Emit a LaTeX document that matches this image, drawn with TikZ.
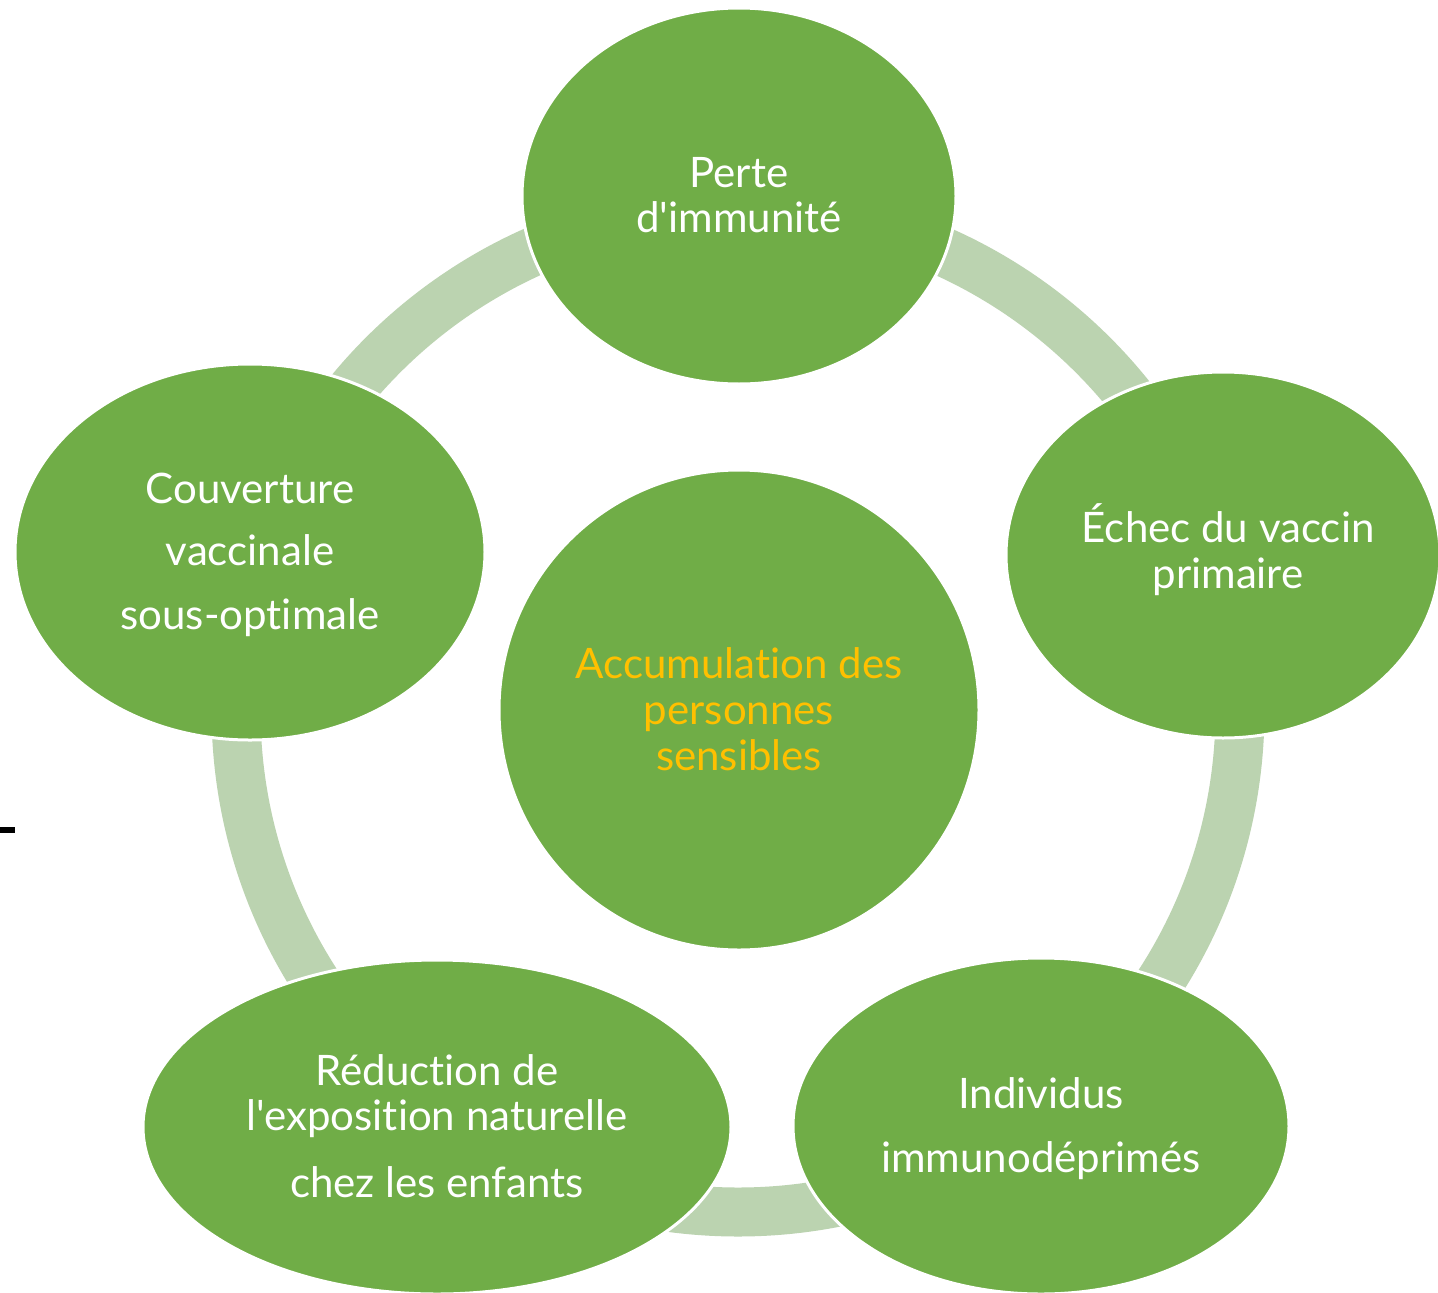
\documentclass[tikz,border=0pt]{standalone}
\usepackage{fontspec}
\setmainfont[Ligatures={NoCommon,TeXOff}]{Lato}
\usetikzlibrary{shapes.geometric}
\definecolor{leaf}{RGB}{112,173,71}
\definecolor{ringc}{RGB}{187,211,176}
\definecolor{gold}{RGB}{255,192,0}
\tikzset{
  bubble/.style={ellipse, fill=leaf, draw=white, line width=3pt, inner sep=0pt},
  txt/.style={anchor=base, text=white, font=\fontsize{42}{50}\selectfont, inner sep=0pt},
  ctxt/.style={txt, text=gold},
  ringline/.style={draw=ringc, line width=49pt}
}
\begin{document}
\begin{tikzpicture}[x=1pt,y=-1pt]
\useasboundingbox (0,0) rectangle (1438,1293);
\clip (0,0) rectangle (1438,1293);
\fill[white] (0,0) rectangle (1438,1293);
\coordinate (ctr) at (738,710);
\draw[ringline] (ctr) circle[radius=502];
\node[bubble, minimum width=434pt, minimum height=376pt] (top) at (739,196) {};
\node[bubble, minimum width=434pt, minimum height=366pt] (right) at (1223,555) {};
\node[bubble, minimum width=470pt, minimum height=376pt] (left) at (250,552) {};
\node[bubble, minimum width=588pt, minimum height=334pt] (botl) at (437,1127) {};
\node[bubble, minimum width=496pt, minimum height=336pt] (botr) at (1041,1126) {};
\node[bubble, circle, minimum size=480pt] (center) at (739,710) {};
% texts
\node[txt] (t1) at (739,187) {Perte};
\node[txt] (t2) at (739,232) {d'immunité};
\node[txt] (r1) at (1228,542) {Échec du vaccin};
\node[txt] (r2) at (1228,588) {primaire};
\node[txt] (l1) at (250,503) {Couverture};
\node[txt] (l2) at (250,565) {vaccinale};
\node[txt] (l3) at (250,629) {sous-optimale};
\node[txt] (bl1) at (437,1085) {Réduction de};
\node[txt] (bl2) at (437,1130) {l'exposition naturelle};
\node[txt] (bl3) at (437,1197) {chez les enfants};
\node[txt] (br1) at (1041,1108) {Individus};
\node[txt] (br2) at (1041,1172) {immunodéprimés};
\node[ctxt] (c1) at (739,678) {Accumulation des};
\node[ctxt] (c2) at (739,724) {personnes};
\node[ctxt] (c3) at (739,770) {sensibles};
\fill[black] (0,827) rectangle (15,833);
\end{tikzpicture}
\end{document}
